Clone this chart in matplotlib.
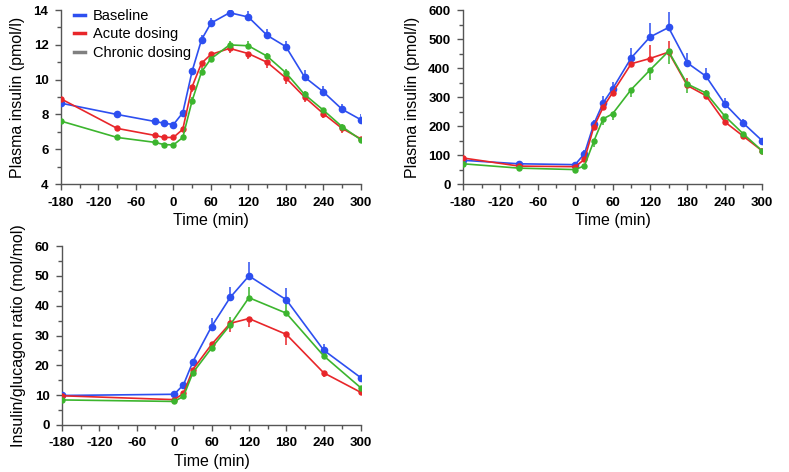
import numpy as np
import matplotlib
matplotlib.use("Agg")
import matplotlib.pyplot as plt
from matplotlib.lines import Line2D
from matplotlib.ticker import MultipleLocator

plt.rcParams['font.family'] = ['Liberation Sans', 'DejaVu Sans']
plt.rcParams['axes.unicode_minus'] = False

# ----- data -----
t1 = [-180, -90, -30, -15, 0, 15, 30, 45, 60, 90, 120, 150, 180, 210, 240, 270, 300]
base1 = [8.65, 8.0, 7.6, 7.5, 7.42, 8.1, 10.5, 12.3, 13.25, 13.85, 13.6, 12.55, 11.9, 10.15, 9.3, 8.3, 7.7]
acute1 = [8.9, 7.2, 6.8, 6.68, 6.68, 7.15, 9.6, 10.95, 11.45, 11.8, 11.5, 11.0, 10.1, 9.0, 8.05, 7.2, 6.6]
chron1 = [7.62, 6.68, 6.4, 6.27, 6.25, 6.68, 8.8, 10.45, 11.2, 12.0, 11.95, 11.35, 10.4, 9.15, 8.25, 7.3, 6.55]
base1_err = [0.1, 0.1, 0.1, 0.1, 0.1, 0.15, 0.2, 0.25, 0.3, 0.15, 0.35, 0.35, 0.35, 0.4, 0.35, 0.3, 0.3]
acute1_err = [0.1, 0.1, 0.1, 0.1, 0.1, 0.1, 0.3, 0.3, 0.2, 0.25, 0.3, 0.3, 0.35, 0.3, 0.25, 0.25, 0.15]
chron1_err = [0.1, 0.1, 0.1, 0.1, 0.1, 0.1, 0.2, 0.2, 0.2, 0.25, 0.3, 0.2, 0.2, 0.2, 0.15, 0.15, 0.1]

t2 = [-180, -90, 0, 15, 30, 45, 60, 90, 120, 150, 180, 210, 240, 270, 300]
base2 = [82, 70, 67, 105, 207, 280, 328, 435, 507, 540, 418, 372, 277, 210, 150]
acute2 = [90, 62, 60, 85, 197, 265, 315, 415, 433, 455, 340, 305, 215, 165, 115]
chron2 = [70, 55, 50, 63, 148, 225, 242, 326, 393, 458, 345, 314, 235, 173, 115]
base2_err = [10, 8, 8, 12, 15, 25, 25, 35, 50, 55, 35, 30, 20, 15, 10]
acute2_err = [10, 8, 8, 10, 15, 20, 20, 25, 45, 40, 25, 20, 15, 10, 8]
chron2_err = [8, 6, 6, 8, 20, 20, 20, 25, 35, 45, 30, 20, 12, 10, 8]

t3 = [-180, 0, 15, 30, 60, 90, 120, 180, 240, 300]
base3 = [9.9, 10.3, 13.5, 21.2, 33.0, 42.8, 50.0, 42.0, 25.1, 15.8]
acute3 = [9.8, 8.5, 10.6, 18.6, 27.0, 34.1, 35.7, 30.4, 17.5, 10.9]
chron3 = [8.4, 7.9, 9.6, 17.5, 25.8, 33.6, 42.7, 37.5, 23.2, 12.4]
base3_err = [1, 1, 1, 1, 3, 3.5, 4.5, 4, 2, 1]
acute3_err = [0.5, 0.5, 0.5, 1, 1.5, 3, 3, 3.5, 1.5, 1]
chron3_err = [0.5, 0.5, 0.5, 1, 1.5, 2.5, 3.5, 3, 1, 0.8]

blue = '#2d4ff0'
red = '#e8262a'
green = '#3cb52e'
legend_labels = ['Baseline', 'Acute dosing', 'Chronic dosing']
legend_colors = [blue, red, '#808080']

fig = plt.figure(figsize=(7.89, 4.72), dpi=100)


def series(ax, t, y, err, color, ms, up=True):
    e = np.array(err)
    z = np.zeros_like(e)
    yerr = [z, e] if up else [e, z]
    ax.errorbar(t, y, yerr=yerr, color=color, lw=1.2, marker='o', ms=ms,
                elinewidth=1.1, capsize=0, zorder=3)


def style(ax, ymax, ymin, ymaj, ymin_step, ylabel):
    for s in ['top', 'right']:
        ax.spines[s].set_visible(False)
    for s in ['left', 'bottom']:
        ax.spines[s].set_color('#555555')
        ax.spines[s].set_linewidth(1.0)
    ax.set_xlim(-180, 300)
    ax.set_ylim(ymin, ymax)
    ax.set_xticks(np.arange(-180, 301, 60))
    ax.xaxis.set_minor_locator(MultipleLocator(30))
    ax.yaxis.set_major_locator(MultipleLocator(ymaj))
    ax.yaxis.set_minor_locator(MultipleLocator(ymin_step))
    ax.tick_params(which='both', direction='out', color='#555555', width=1.0)
    ax.tick_params(which='major', length=4, labelsize=9.5, pad=5)
    ax.tick_params(which='minor', length=3)
    for lab in ax.get_xticklabels() + ax.get_yticklabels():
        lab.set_fontweight('bold')
    ax.set_xlabel('Time (min)', fontsize=11.5, labelpad=3)
    ax.set_ylabel(ylabel, fontsize=11.5, labelpad=6)


ax1 = fig.add_axes([0.0773, 0.610, 0.380, 0.3686])
series(ax1, t1, base1, base1_err, blue, 4.5)
series(ax1, t1, acute1, acute1_err, red, 3.6, up=False)
series(ax1, t1, chron1, chron1_err, green, 3.6)
style(ax1, 14, 4, 2, 1, 'Plasma insulin (pmol/l)')
handles = [Line2D([0], [0], color=c, lw=2.5) for c in legend_colors]
ax1.legend(handles, legend_labels, loc='upper left', bbox_to_anchor=(0.025, 1.04),
           frameon=False, fontsize=10.5, handlelength=0.7, handletextpad=0.55,
           labelspacing=0.3, borderaxespad=0)

ax2 = fig.add_axes([0.5868, 0.610, 0.379, 0.3686])
series(ax2, t2, base2, base2_err, blue, 4.5)
series(ax2, t2, acute2, acute2_err, red, 3.6)
series(ax2, t2, chron2, chron2_err, green, 3.6, up=False)
style(ax2, 600, 0, 100, 50, 'Plasma insulin (pmol/l)')

ax3 = fig.add_axes([0.0786, 0.0996, 0.379, 0.379])
series(ax3, t3, base3, base3_err, blue, 4.5)
series(ax3, t3, acute3, acute3_err, red, 3.6, up=False)
series(ax3, t3, chron3, chron3_err, green, 3.6)
style(ax3, 60, 0, 10, 5, 'Insulin/glucagon ratio (mol/mol)')

fig.savefig('out.png', dpi=100)
